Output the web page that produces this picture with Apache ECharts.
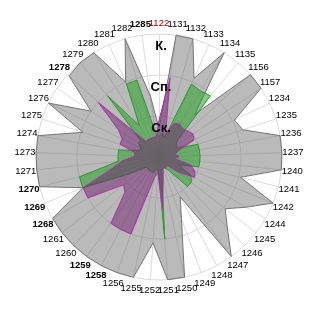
<!DOCTYPE html>
<html><head><meta charset="utf-8">
<script src="https://cdn.jsdelivr.net/npm/echarts@6/dist/echarts.min.js"></script>
<style>html,body{margin:0;padding:0;background:#fff}#c{width:320px;height:320px}</style>
</head><body><div id="c"></div>
<script>
// categories clockwise from the top
const categories = ['1122','1131','1132','1133','1134','1135','1156','1157','1234','1235','1236','1237','1240','1241','1242','1244','1245','1246','1247','1248','1249','1250','1251','1252','1255','1256','1258','1259','1260','1261','1268','1269','1270','1271','1273','1274','1275','1276','1277','1278','1279','1280','1281','1282','1285'];
const boldCategories = ['1285','1278','1270','1269','1268','1259','1258'];
const redCategories = ['1122'];
const ringLabels = ['', 'Ск.', 'Сп.', 'К.'];
const grayValues   = [0.7,3,3,2.1,3,1.35,3,3,2.05,2.15,3,3,3,2.05,3,2.45,2.05,2.4,3,1.1,1.6,3,3,2.1,3,3,3,3,3,3,3,2,3,3,3,3,1.95,3,2,2.95,3,3,2,3,1.5];
const greenValues  = [0.5,0.6,0.5,1.95,1.9,1.95,0.6,0.5,0.5,1,1,1,1,1,0.5,0.9,1,1,0.4,0.3,0.3,0.3,2,0.3,0.3,0.4,0.4,0.4,0.4,0.4,0.8,2,2,1,1,1,0.5,0.5,0.6,0.6,1.95,0.9,1.95,1.95,0.6];
const purpleValues = [0.9,1.95,0.6,0.9,0.95,0.9,0.95,1,0.95,0.5,0.4,0.5,0.4,0.8,0.95,1,0.6,0.3,0.3,0.3,0.3,0.5,1.3,0.4,0.5,2,2,2,1.2,1.1,2,2,1.2,0.9,0.6,0.6,1,1,1.2,2,0.5,0.5,0.5,0.5,0.5];

// ECharts radar lays indicators out counterclockwise: reorder so they read clockwise
const n = categories.length;
const order = categories.map((_, k) => (n - k) % n);
const pick = arr => order.map(i => arr[i]);

const FONT = 'Liberation Sans Narrow, Liberation Sans, Arial, sans-serif';
const FS = 9.5;

const baseIndicator = pick(categories).map(name => ({ name: name, min: 0, max: 3 }));
// overlay copy that only carries the ring (radius) labels, drawn above the fills
const labelIndicator = baseIndicator.map((ind, k) => {
  const c = Object.assign({}, ind);
  if (k === 0) {
    c.axisLabel = {
      show: true, color: '#000', fontSize: 13, fontWeight: 'bold',
      fontFamily: 'Liberation Sans, Arial, sans-serif',
      align: 'center', verticalAlign: 'top', margin: 0, padding: [6, 0, 0, 4],
      formatter: v => ringLabels[Math.round(v)] || ''
    };
  }
  return c;
});

const geom = { center: [159, 157], radius: 123, startAngle: 90, shape: 'circle', splitNumber: 3 };

const chart = echarts.init(document.getElementById('c'), null, { renderer: 'canvas' });
chart.setOption({
  animation: false,
  backgroundColor: '#fff',
  radar: [
    Object.assign({}, geom, {
      indicator: baseIndicator,
      nameGap: 11,
      axisName: {
        color: '#000', fontSize: FS, fontFamily: FONT,
        align: 'center', verticalAlign: 'middle',
        formatter: name => boldCategories.includes(name) ? '{b|' + name + '}' : (redCategories.includes(name) ? '{r|' + name + '}' : name),
        rich: {
          b: { fontWeight: 'bold', fontSize: FS, color: '#000', fontFamily: FONT },
          r: { color: '#990000', fontSize: FS, fontFamily: FONT }
        }
      },
      axisLine: { lineStyle: { color: '#dcdcdc', width: 1 } },
      splitLine: { lineStyle: { color: '#dcdcdc', width: 1 } },
      splitArea: { show: false },
      axisTick: { show: false },
      axisLabel: { show: false }
    }),
    Object.assign({}, geom, {
      z: 10,
      indicator: labelIndicator,
      axisName: { show: false },
      axisLine: { show: false },
      splitLine: { show: false },
      splitArea: { show: false },
      axisTick: { show: false },
      axisLabel: { show: false }
    })
  ],
  series: [{
    type: 'radar', radarIndex: 0, symbol: 'none', silent: true,
    data: [
      { value: pick(grayValues), lineStyle: { color: '#7a7a7a', width: 1 }, itemStyle: { color: '#7a7a7a' }, areaStyle: { color: 'rgba(105,105,105,0.46)', opacity: 1 } },
      { value: pick(greenValues), lineStyle: { color: '#2f942f', width: 1 }, itemStyle: { color: '#2f942f' }, areaStyle: { color: 'rgba(40,160,40,0.55)', opacity: 1 } },
      { value: pick(purpleValues), lineStyle: { color: '#c43cc4', width: 1 }, itemStyle: { color: '#c43cc4' }, areaStyle: { color: 'rgba(110,30,110,0.5)', opacity: 1 } }
    ]
  }]
});
</script></body></html>
